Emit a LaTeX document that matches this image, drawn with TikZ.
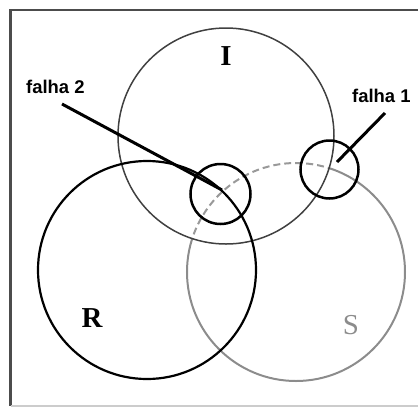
\documentclass[tikz,border=0pt]{standalone}
\usepackage{fontspec}
\setmainfont{Liberation Serif}
\newfontfamily\labelsans{Liberation Sans}
\begin{document}
\begin{tikzpicture}[x=1bp,y=-1bp,
  circI/.style={draw=black!75,line width=1.5bp},
  circR/.style={draw=black,line width=2.2bp},
  circS/.style={draw=black!45,line width=2bp},
  faultring/.style={draw=black,line width=2.5bp},
  pointer/.style={draw=black,line width=3bp},
  faultlabel/.style={font=\labelsans\bfseries\fontsize{18.5}{20}\selectfont,anchor=base west,inner sep=0pt},
  setlabel/.style={font=\fontsize{29}{30}\selectfont,inner sep=0pt}]
\useasboundingbox (0,0) rectangle (418,408);
% frame
\draw[black!70,line width=2bp] (418,10) -- (10.5,10) -- (10.5,406);
\draw[black!20,line width=1.5bp] (10.5,406) -- (418,406);
% centres
\coordinate (cI) at (226,136);
\coordinate (cR) at (147,270);
\coordinate (cS) at (296,272);
% S circle: solid outside I, dashed inside I
\begin{scope}[even odd rule]
  \clip (0,0) rectangle (418,408) (cI) circle[radius=108bp];
  \draw[circS] (cS) circle[radius=109bp];
\end{scope}
\begin{scope}
  \clip (cI) circle[radius=108bp];
  \draw[circS,draw=black!40,dash pattern=on 7bp off 4bp] (cS) circle[radius=109bp];
\end{scope}
\draw[circI] (cI) circle[radius=108bp];
\draw[circR] (cR) circle[radius=109bp];
% fault rings
\coordinate (c2) at (220.5,194);
\coordinate (c1) at (329.5,169.5);
\draw[faultring] (c2) circle[radius=30bp];
\draw[faultring] (c1) circle[radius=29bp];
% labels
\node[faultlabel] (f2) at (26,93) {falha 2};
\node[faultlabel] (f1) at (352,102) {falha 1};
\coordinate (f2s) at (62,104);
\coordinate (f2e) at (222,190);
\coordinate (f1s) at (385,113);
\coordinate (f1e) at (337,162);
\draw[pointer] (f2s) -- (f2e);
\draw[pointer] (f1s) -- (f1e);
\node[setlabel,font=\bfseries\fontsize{29}{30}\selectfont] (lI) at (226,56) {I};
\node[setlabel,font=\bfseries\fontsize{29}{30}\selectfont] (lR) at (92,318) {R};
\node[setlabel,text=black!45] (lS) at (351,325) {S};
\end{tikzpicture}
\end{document}
